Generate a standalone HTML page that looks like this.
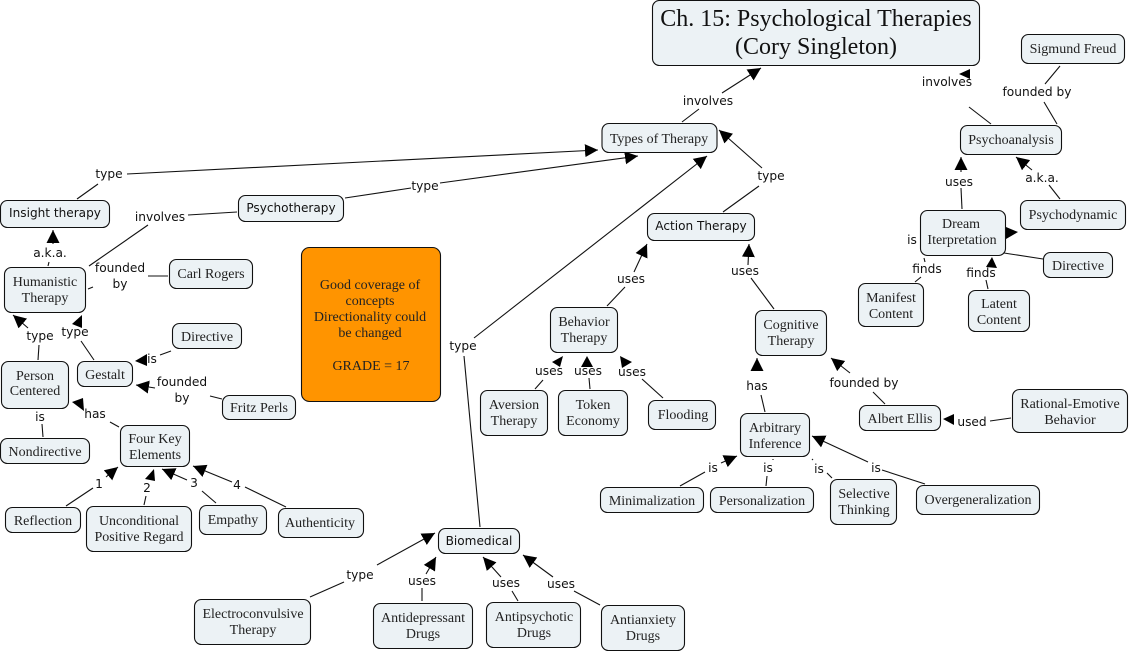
<!DOCTYPE html>
<html>
<head>
<meta charset="utf-8">
<style>
html,body{margin:0;padding:0;background:#fff;width:1130px;height:653px;overflow:hidden}
svg{display:block}
.n{fill:#ecf2f5;stroke:#111;stroke-width:1.1}
.l{stroke:#111;stroke-width:1.1;fill:none}
.a{stroke:#111;stroke-width:1.1;fill:none;marker-end:url(#ah)}
.s{font:14px "Liberation Serif",serif;fill:#222;text-anchor:middle}
.d{font:12.1px "DejaVu Sans",sans-serif;fill:#111;text-anchor:middle}
.b{font:12.2px "DejaVu Sans",sans-serif;fill:#111;text-anchor:middle}
.t{font:24px "Liberation Serif",serif;fill:#111;text-anchor:middle}
</style>
</head>
<body>
<svg width="1130" height="653" viewBox="0 0 1130 653" xmlns="http://www.w3.org/2000/svg">
<defs>
<marker id="ah" markerUnits="userSpaceOnUse" markerWidth="15" markerHeight="15" refX="13" refY="7" orient="auto">
<path d="M0 0.5L13 7L0 13.5Z" fill="#000"/>
</marker>
</defs>

<!-- connectors -->
<path class="l" d="M682 122L699 109"/>
<path class="a" d="M722 93L761 68"/>
<path class="l" d="M991 124L969 107"/>
<path d="M970 69L959 74L970 79Z" fill="#000"/>
<path class="l" d="M1060 66L1045 84M1044 102L1057 124"/>
<path class="l" d="M1060 199L1049 185"/>
<path class="a" d="M1032 170L1016 157"/>
<path class="l" d="M962 209L961 188"/>
<path class="a" d="M961 172L961 157"/>
<path d="M1018 232L1006 227L1006 239Z" fill="#000"/>
<path class="l" d="M1004 253L1043 259M924 258L925 262M915 282L921 277M986 280L988 289"/>
<path d="M992 257L986 267L997 268Z" fill="#000"/>

<path class="l" d="M77 199L98 184"/>
<path class="a" d="M127 174L598 150"/>
<path class="l" d="M345 198L411 188"/>
<path class="a" d="M440 183L638 156"/>
<path class="l" d="M188 215L237 212M148 225L89 266"/>
<path class="l" d="M48 266L49 262"/>
<path class="a" d="M53 244L53 230"/>
<path class="l" d="M148 276L168 276M88 289L93 287"/>
<path class="l" d="M38 360L39 345"/>
<path class="a" d="M28 328L13 315"/>
<path class="l" d="M94 360L81 341"/>
<path d="M82 315L72 324L82 328Z" fill="#000"/>
<path class="l" d="M160 355L171 351"/>
<path d="M135 361L147 354L147 366Z" fill="#000"/>
<path class="a" d="M155 388L136 385"/>
<path class="l" d="M210 396L222 399"/>
<path class="l" d="M110 422L119 427"/>
<path d="M72 402L83 398L84 411Z" fill="#000"/>
<path class="l" d="M37 405L37 407M42 424L43 437"/>
<path class="l" d="M66 506L93 488"/>
<path class="a" d="M106 477L118 467"/>
<path class="l" d="M144 505L146 496"/>
<path d="M154 469L145 479L155 481Z" fill="#000"/>
<path class="l" d="M216 503L202 491"/>
<path class="a" d="M187 480L162 469"/>
<path class="l" d="M286 507L245 487"/>
<path class="a" d="M232 482L193 466"/>

<path class="l" d="M480 527L464 356"/>
<path class="a" d="M474 338L707 156"/>
<path class="l" d="M723 212L759 186"/>
<path class="a" d="M762 168L719 130"/>
<path class="l" d="M774 309L751 278"/>
<path class="a" d="M748 265L749 244"/>
<path class="l" d="M607 306L625 287"/>
<path class="a" d="M634 272L647 244"/>
<path class="l" d="M535 389L543 380"/>
<path d="M563 356L552 362L560 367Z" fill="#000"/>
<path class="l" d="M590 389L589 378"/>
<path d="M587 356L581 367L593 367Z" fill="#000"/>
<path class="l" d="M642 379L663 398"/>
<path d="M620 356L622 368L632 362Z" fill="#000"/>
<path class="l" d="M761 395L765 412"/>
<path class="a" d="M757 371L757 358"/>
<path class="l" d="M885 404L873 392"/>
<path class="a" d="M850 373L831 358"/>
<path class="l" d="M990 421L1011 418"/>
<path d="M943 419L954 414L954 425Z" fill="#000"/>
<path class="l" d="M680 486L705 472"/>
<path class="a" d="M721 463L737 456"/>
<path class="l" d="M766 486L767 476M773 459L773 460M812 459L813 460M827 473L832 478"/>
<path class="l" d="M882 470L925 484"/>
<path class="a" d="M868 462L812 436"/>
<path class="l" d="M310 597L344 582"/>
<path class="a" d="M377 565L435 533"/>
<path class="l" d="M422 588L422 601"/>
<path class="a" d="M426 574L436 557"/>
<path class="l" d="M512 591L518 601"/>
<path class="a" d="M501 577L483 557"/>
<path class="l" d="M574 591L600 605"/>
<path class="a" d="M553 577L523 555"/>

<!-- nodes -->
<rect class="n" x="652.5" y="0.5" width="327" height="65" rx="7"/>
<text class="t" x="816" y="26">Ch. 15: Psychological Therapies</text>
<text class="t" x="816" y="54">(Cory Singleton)</text>

<rect class="n" x="1021.5" y="34.5" width="103" height="29" rx="7"/>
<text class="s" x="1073" y="53">Sigmund Freud</text>
<rect class="n" x="960.5" y="125.5" width="101" height="29" rx="7"/>
<text class="s" x="1011" y="144">Psychoanalysis</text>
<rect class="n" x="1020.5" y="200.5" width="105" height="29" rx="7"/>
<text class="s" x="1073" y="219">Psychodynamic</text>
<rect class="n" x="920.5" y="210.5" width="85" height="45" rx="7"/>
<text class="s" x="961" y="228">Dream</text>
<text class="s" x="962" y="244">Iterpretation</text>
<rect class="n" x="1043.5" y="252.5" width="69" height="25" rx="7"/>
<text class="s" x="1078" y="270">Directive</text>
<rect class="n" x="858.5" y="283.5" width="65" height="43" rx="7"/>
<text class="s" x="891" y="302">Manifest</text>
<text class="s" x="891" y="318">Content</text>
<rect class="n" x="968.5" y="290.5" width="61" height="41" rx="7"/>
<text class="s" x="999" y="308">Latent</text>
<text class="s" x="999" y="324">Content</text>

<rect class="n" x="602" y="123.5" width="115" height="29" rx="7"/>
<text class="s" x="659" y="143">Types of Therapy</text>
<rect class="n" x="238.5" y="195.5" width="105" height="26" rx="7"/>
<text class="d" x="291" y="212">Psychotherapy</text>
<rect class="n" x="0.5" y="200.5" width="109" height="27" rx="7"/>
<text class="d" x="55" y="217">Insight therapy</text>
<rect class="n" x="4.5" y="267.5" width="81" height="45" rx="7"/>
<text class="s" x="45" y="286">Humanistic</text>
<text class="s" x="45" y="302">Therapy</text>
<rect class="n" x="169.5" y="259.5" width="83" height="29" rx="7"/>
<text class="s" x="211" y="278">Carl Rogers</text>
<rect class="n" x="172.5" y="323.5" width="69" height="25" rx="7"/>
<text class="s" x="207" y="341">Directive</text>
<rect class="n" x="1.5" y="361.5" width="67" height="47" rx="7"/>
<text class="s" x="35" y="380">Person</text>
<text class="s" x="35" y="395">Centered</text>
<rect class="n" x="77.5" y="361.5" width="55" height="25" rx="7"/>
<text class="s" x="105" y="379">Gestalt</text>
<rect class="n" x="222.5" y="395.5" width="73" height="24" rx="7"/>
<text class="s" x="259" y="412">Fritz Perls</text>
<rect class="n" x="0.5" y="438.5" width="89" height="25" rx="7"/>
<text class="s" x="45" y="456">Nondirective</text>
<rect class="n" x="120.5" y="425.5" width="69" height="41" rx="7"/>
<text class="s" x="155" y="443">Four Key</text>
<text class="s" x="155" y="459">Elements</text>
<rect class="n" x="5.5" y="507.5" width="75" height="25" rx="7"/>
<text class="s" x="43" y="525">Reflection</text>
<rect class="n" x="86.5" y="506.5" width="105" height="45" rx="7"/>
<text class="s" x="139" y="525">Unconditional</text>
<text class="s" x="139" y="541">Positive Regard</text>
<rect class="n" x="199.5" y="505.5" width="67" height="29" rx="7"/>
<text class="s" x="233" y="524">Empathy</text>
<rect class="n" x="278.5" y="508.5" width="85" height="29" rx="7"/>
<text class="s" x="320" y="527">Authenticity</text>

<rect x="301.5" y="247.5" width="139" height="154" rx="8" fill="#ff9400" stroke="#111" stroke-width="1.1"/>
<text class="s" x="370" y="289">Good coverage of</text>
<text class="s" x="370" y="305">concepts</text>
<text class="s" x="370" y="321">Directionality could</text>
<text class="s" x="370" y="337">be changed</text>
<text class="s" x="371" y="370">GRADE = 17</text>

<rect class="n" x="438.5" y="528.5" width="81" height="25" rx="7"/>
<text class="d" x="479" y="545">Biomedical</text>
<rect class="n" x="194.5" y="599.5" width="116" height="45" rx="7"/>
<text class="s" x="253" y="618">Electroconvulsive</text>
<text class="s" x="253" y="634">Therapy</text>
<rect class="n" x="373.5" y="603.5" width="99" height="45" rx="7"/>
<text class="s" x="423" y="622">Antidepressant</text>
<text class="s" x="423" y="638">Drugs</text>
<rect class="n" x="486.5" y="602.5" width="94" height="45" rx="7"/>
<text class="s" x="534" y="621">Antipsychotic</text>
<text class="s" x="534" y="637">Drugs</text>
<rect class="n" x="601.5" y="605.5" width="83" height="45" rx="7"/>
<text class="s" x="643" y="624">Antianxiety</text>
<text class="s" x="643" y="640">Drugs</text>

<rect class="n" x="647.5" y="213.5" width="107" height="27" rx="7"/>
<text class="d" x="701" y="230">Action Therapy</text>
<rect class="n" x="550.5" y="307.5" width="67" height="45" rx="7"/>
<text class="s" x="584" y="326">Behavior</text>
<text class="s" x="584" y="342">Therapy</text>
<rect class="n" x="755.5" y="310.5" width="71" height="45" rx="7"/>
<text class="s" x="791" y="329">Cognitive</text>
<text class="s" x="791" y="345">Therapy</text>
<rect class="n" x="480.5" y="390.5" width="67" height="45" rx="7"/>
<text class="s" x="514" y="409">Aversion</text>
<text class="s" x="514" y="425">Therapy</text>
<rect class="n" x="558.5" y="390.5" width="69" height="45" rx="7"/>
<text class="s" x="593" y="409">Token</text>
<text class="s" x="593" y="425">Economy</text>
<rect class="n" x="648.5" y="400.5" width="67" height="29" rx="7"/>
<text class="s" x="683" y="419">Flooding</text>
<rect class="n" x="740.5" y="413.5" width="69" height="43" rx="7"/>
<text class="s" x="775" y="432">Arbitrary</text>
<text class="s" x="775" y="448">Inference</text>
<rect class="n" x="859.5" y="405.5" width="81" height="25" rx="7"/>
<text class="s" x="900" y="423">Albert Ellis</text>
<rect class="n" x="1012.5" y="389.5" width="115" height="43" rx="7"/>
<text class="s" x="1070" y="408">Rational-Emotive</text>
<text class="s" x="1070" y="424">Behavior</text>
<rect class="n" x="600.5" y="487.5" width="103" height="25" rx="7"/>
<text class="s" x="652" y="505">Minimalization</text>
<rect class="n" x="710.5" y="487.5" width="103" height="25" rx="7"/>
<text class="s" x="762" y="505">Personalization</text>
<rect class="n" x="830.5" y="479.5" width="66" height="45" rx="7"/>
<text class="s" x="864" y="498">Selective</text>
<text class="s" x="864" y="514">Thinking</text>
<rect class="n" x="916.5" y="485.5" width="123" height="29" rx="7"/>
<text class="s" x="978" y="504">Overgeneralization</text>

<!-- connector labels -->
<text class="b" x="708" y="105">involves</text>
<text class="b" x="947" y="86">involves</text>
<text class="b" x="1037" y="96">founded by</text>
<text class="b" x="1042" y="182">a.k.a.</text>
<text class="b" x="959" y="186">uses</text>
<text class="b" x="912" y="244">is</text>
<text class="b" x="927" y="273">finds</text>
<text class="b" x="981" y="277">finds</text>
<text class="b" x="109" y="178">type</text>
<text class="b" x="425" y="190">type</text>
<text class="b" x="160" y="221">involves</text>
<text class="b" x="50" y="257">a.k.a.</text>
<text class="b" x="120" y="272">founded</text>
<text class="b" x="120" y="288">by</text>
<text class="b" x="40" y="340">type</text>
<text class="b" x="75" y="336">type</text>
<text class="b" x="152" y="363">is</text>
<text class="b" x="182" y="386">founded</text>
<text class="b" x="182" y="402">by</text>
<text class="b" x="95" y="418">has</text>
<text class="b" x="40" y="421">is</text>
<text class="b" x="99" y="488">1</text>
<text class="b" x="147" y="492">2</text>
<text class="b" x="194" y="487">3</text>
<text class="b" x="237" y="489">4</text>
<text class="b" x="463" y="350">type</text>
<text class="b" x="771" y="180">type</text>
<text class="b" x="745" y="275">uses</text>
<text class="b" x="631" y="283">uses</text>
<text class="b" x="549" y="375">uses</text>
<text class="b" x="588" y="375">uses</text>
<text class="b" x="632" y="376">uses</text>
<text class="b" x="757" y="390">has</text>
<text class="b" x="864" y="387">founded by</text>
<text class="b" x="972" y="426">used</text>
<text class="b" x="713" y="472">is</text>
<text class="b" x="768" y="472">is</text>
<text class="b" x="819" y="473">is</text>
<text class="b" x="876" y="472">is</text>
<text class="b" x="360" y="579">type</text>
<text class="b" x="422" y="585">uses</text>
<text class="b" x="506" y="587">uses</text>
<text class="b" x="561" y="588">uses</text>
</svg>
</body>
</html>
